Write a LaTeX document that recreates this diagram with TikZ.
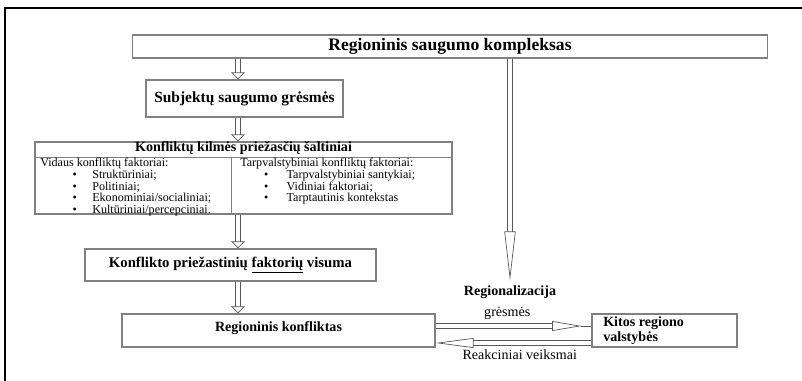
\documentclass[tikz,border=0pt]{standalone}
\usepackage{fontspec}
\setmainfont{Liberation Serif}
\usepackage{tikz}
\usetikzlibrary{calc,positioning,arrows.meta}
\tikzset{
	>=Stealth,
	box/.style={draw=boxgray, line width=0.8pt, inner sep=0pt},
	hollow/.style={draw=arrowgray, line width=0.5pt, double=white, double distance=3.5pt,
		-{Triangle[open, length=5pt, width=10pt]}},
	slim/.style={double distance=3pt, -{Triangle[open, length=35pt, width=8pt]}},
}
\definecolor{boxgray}{rgb}{0.5,0.5,0.5}
\definecolor{arrowgray}{rgb}{0.35,0.35,0.35}
\newcommand{\itm}[3]{\hspace*{#1}\makebox[#2][l]{\textbullet}#3}

\begin{document}
\begin{tikzpicture}[
            x=0.025cm,
            y=-0.025cm,
            title/.style={font=\bfseries\fontsize{10}{11}\selectfont},
            plain/.style={font=\fontsize{10}{11}\selectfont},
            small/.style={font=\fontsize{8.6}{8.3}\selectfont, align=left, inner sep=0pt, anchor=north west}
        ]
        \useasboundingbox (0,0) rectangle (802,381);
        \draw[line width=1.5pt] (5,420) |- (840,8);
        \coordinate (ax) at (238,0);

        \node[box, minimum width=15.85cm, minimum height=0.575cm, font=\bfseries\fontsize{12.5}{13}\selectfont]
            (rsk) at (450,46.5) {Regioninis saugumo kompleksas};
        \node[box, minimum width=4.925cm, minimum height=0.925cm, font=\bfseries\fontsize{11}{12}\selectfont]
            (subj) at (244.5,98.5) {Subjektų saugumo grėsmės};
        \node[box, minimum width=10.425cm, minimum height=1.8cm] (ksalt) at (243.5,178) {};
        \node[title] (ksaltt) at (243.5,148) {Konfliktų kilmės priežasčių šaltiniai};
        \draw[box] ($(ksalt.north west)+(0,16)$) -- ($(ksalt.north east)+(0,16)$);
        \draw[box] ($(ksalt.north west)+(197,16)$) -- ($(ksalt.south west)+(197,0)$);
        \node[small] (vidaus) at (40,158) {Vidaus konfliktų faktoriai:\\
            \itm{23pt}{14pt}{Struktūriniai;}\\
            \itm{23pt}{14pt}{Politiniai;}\\
            \itm{23pt}{14pt}{Ekonominiai/socialiniai;}\\
            \itm{23pt}{14pt}{Kultūriniai/percepciniai.}};
        \node[small] (tarp) at (240,158) {Tarpvalstybiniai konfliktų faktoriai:\\
            \itm{17pt}{16pt}{Tarpvalstybiniai santykiai;}\\
            \itm{17pt}{16pt}{Vidiniai faktoriai;}\\
            \itm{17pt}{16pt}{Tarptautinis kontekstas}};
        \node[box, minimum width=7.275cm, minimum height=0.8cm, font=\bfseries\fontsize{10.5}{12}\selectfont]
            (kpfv) at (230.5,265) {Konflikto priežastinių \underline{faktorių} visuma};
        \node[box, minimum width=7.825cm, minimum height=0.825cm, title, text depth=5pt]
            (rkonf) at (278.5,330.5) {Regioninis konfliktas};
        \node[box, minimum width=3.625cm, minimum height=0.825cm] (kitos) at (664.5,330.5) {};
        \node[title, align=left, anchor=west, inner sep=0pt] (kitost) at (603,330.5) {Kitos regiono\\valstybės};
        \node[title] (regz) at (510,292) {Regionalizacija};

        \draw[hollow] (rsk.south -| ax) -- (subj.north -| ax);
        \draw[hollow] (subj.south -| ax) -- (ksalt.north -| ax);
        \draw[hollow] (ksalt.south -| ax) -- (kpfv.north -| ax);
        \draw[hollow] (kpfv.south -| ax) -- (rkonf.north -| ax);
        \draw[hollow, slim] (rsk.south -| regz) -- (regz.north);
        \draw[hollow, -{Triangle[open, length=21pt, width=7pt]}, shorten >=7pt]
            ($(rkonf.east)+(0,-4.5)$) -- ($(kitos.west)+(0,-4.5)$)
            node[plain, pos=0.46, above=1pt] {grėsmės};
        \draw[arrowgray, line width=0.5pt] ($(kitos.west)+(-10,-4.5)$) -- ($(kitos.west)+(0,-4.5)$);
        \draw[hollow, -{Triangle[open, length=27pt, width=7pt]}]
            ($(kitos.west)+(0,12.5)$) -- ($(rkonf.east)+(0,12.5)$)
            node[plain, pos=0.46, below=1pt] {Reakciniai veiksmai};
    \end{tikzpicture}
\end{document}
